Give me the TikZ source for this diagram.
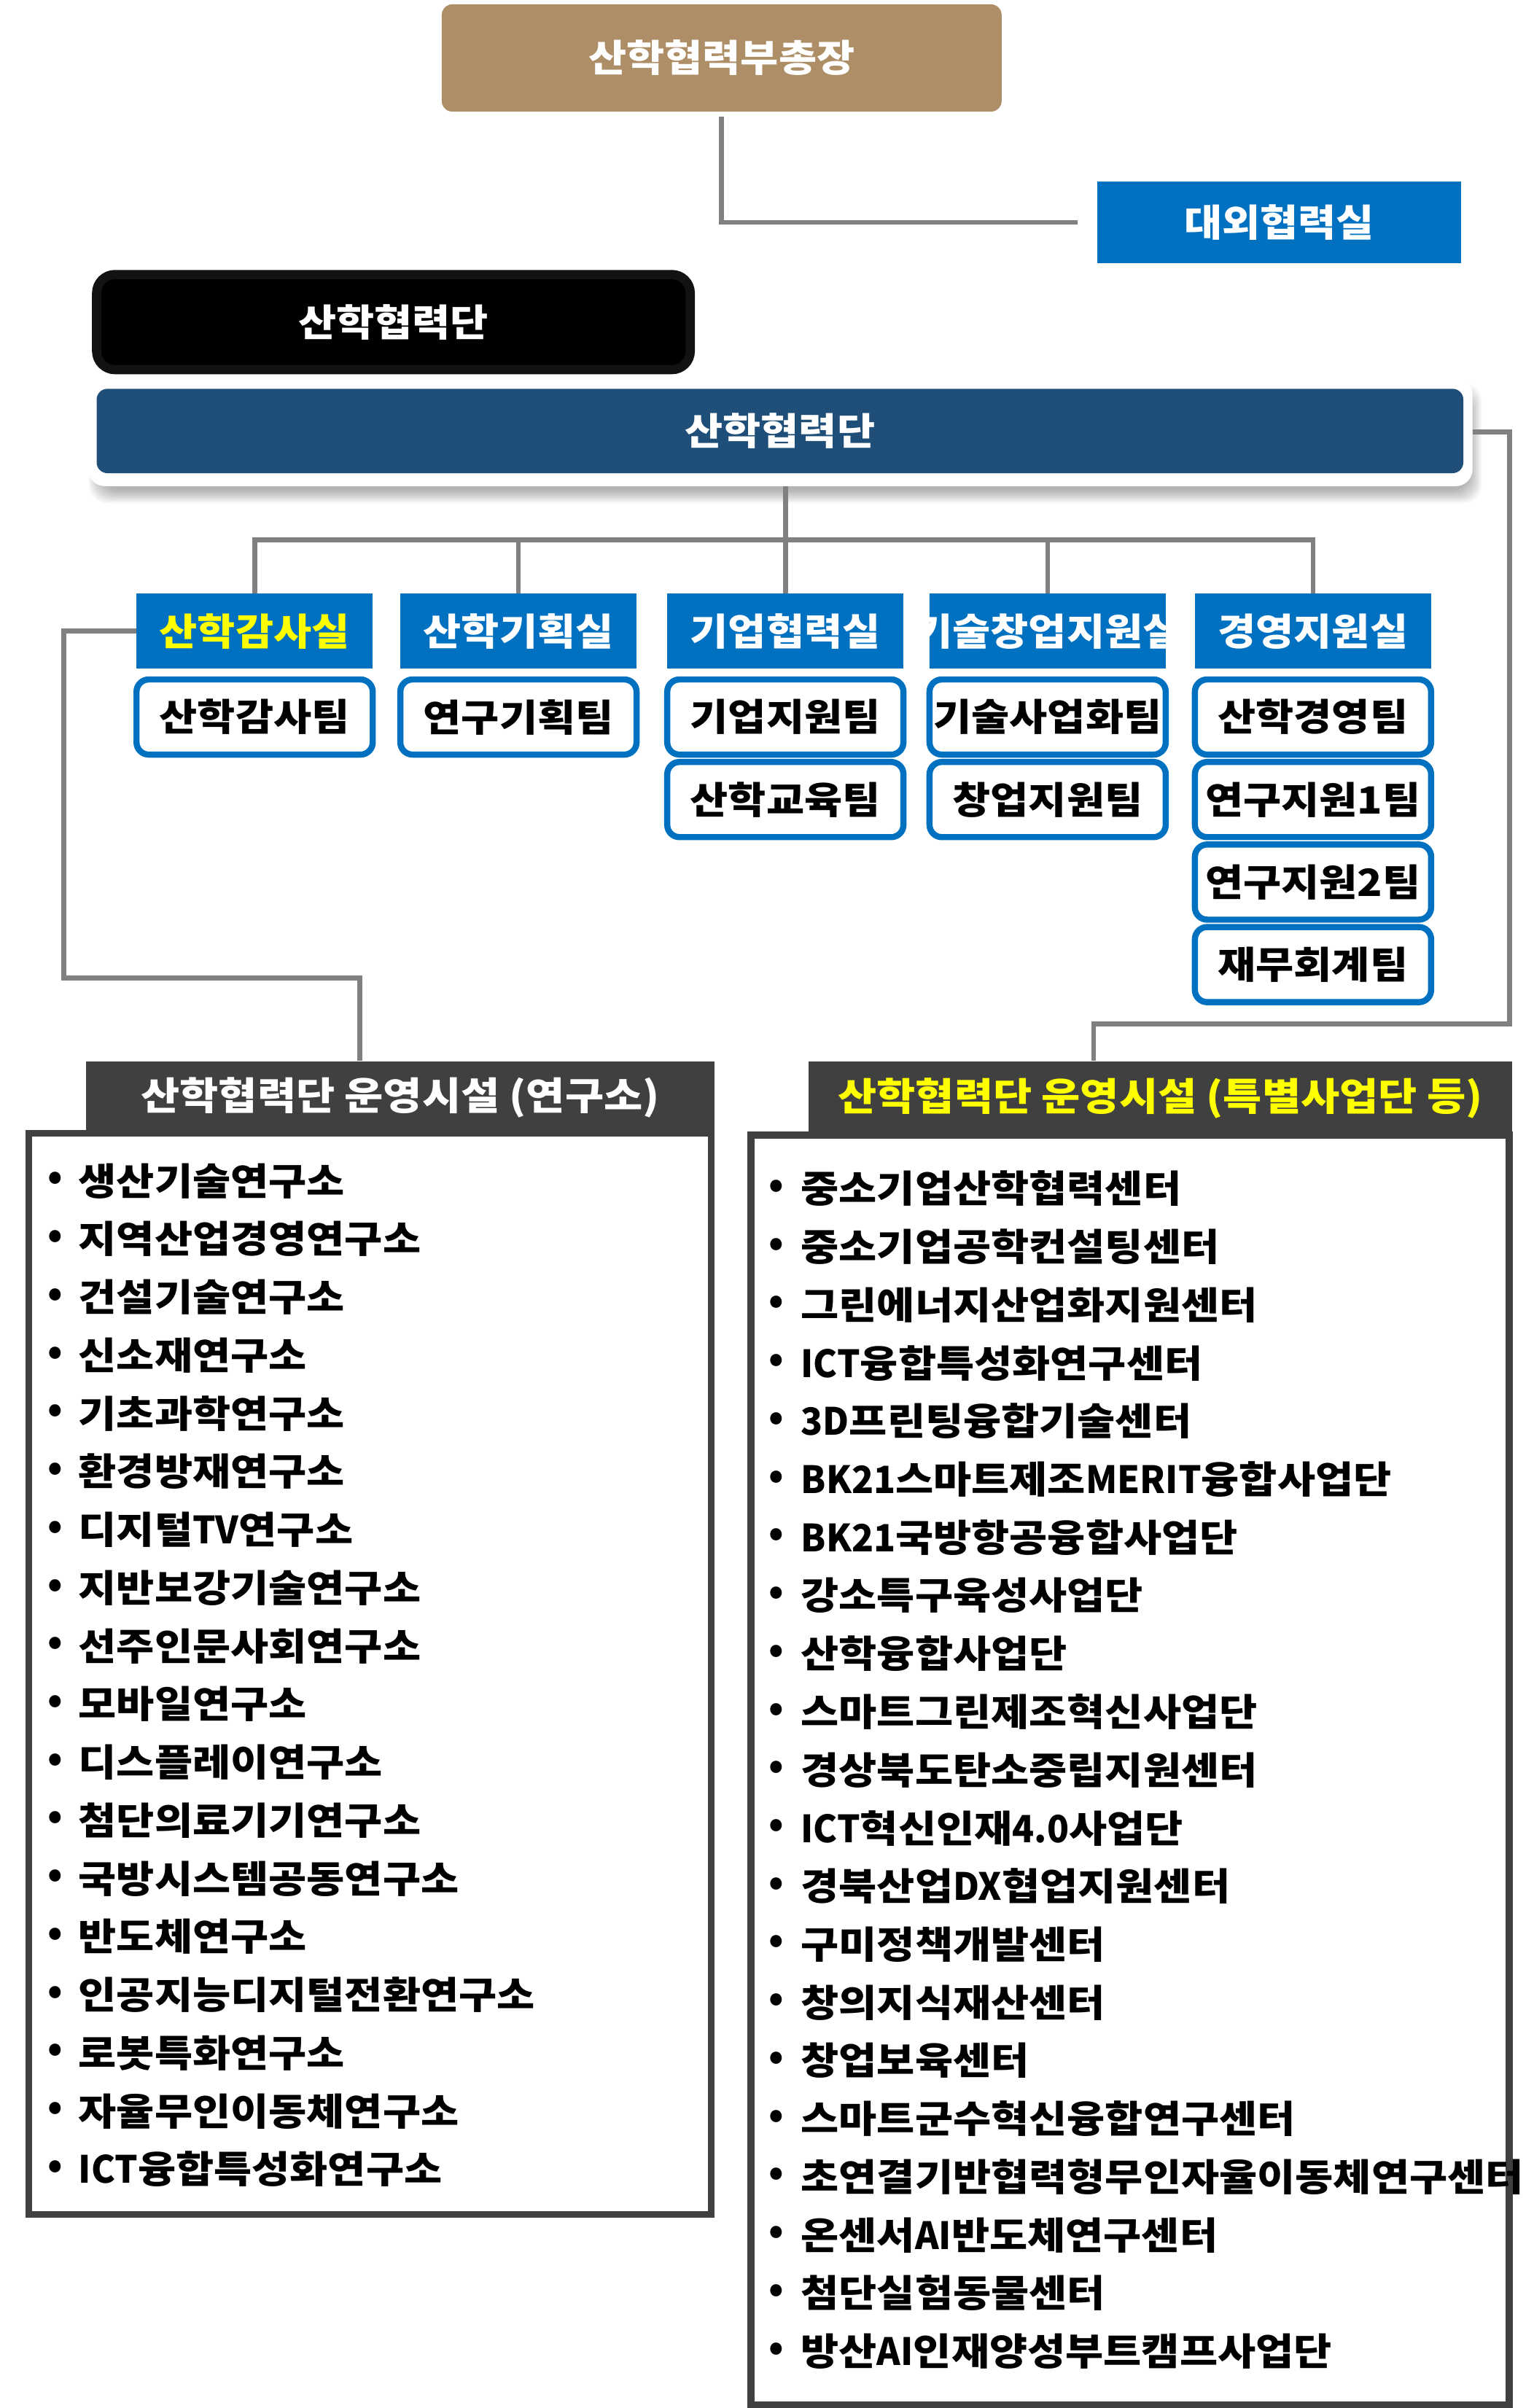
\documentclass[tikz,border=0pt]{standalone}
\usepackage{fontspec}
\setmainfont{Noto Sans CJK KR}[FakeStretch=1.1]
\newfontfamily\latfont{Noto Sans CJK KR}[FakeStretch=0.96]
\newfontfamily\bulfont{Noto Sans CJK KR}
\newcommand\latn[1]{{\latfont #1}}
\definecolor{tanbox}{HTML}{AE8E66}
\definecolor{hblue}{HTML}{0070C0}
\definecolor{navy}{HTML}{1F4E79}
\definecolor{lgray}{HTML}{808080}
\definecolor{dgray}{HTML}{404040}
\definecolor{yel}{HTML}{FFFF00}
\begin{document}
\begin{tikzpicture}[x=1pt,y=-1pt,
  lbl/.style={font=\bfseries\fontsize{24.5}{29}\selectfont},
  conn/.style={draw=lgray,line width=3.2pt,line join=miter},
  hdr/.style={lbl,fill=hblue,text=white,minimum width=154pt,minimum height=49pt,inner sep=0pt},
  team/.style={lbl,draw=hblue,line width=4pt,fill=white,rounded corners=8pt,minimum width=154pt,minimum height=49pt,inner sep=0pt,text=black},
  item/.style={lbl,anchor=west,inner sep=0pt,text=black},
  bul/.style={font=\bulfont\bfseries\fontsize{24.5}{29}\selectfont,inner sep=0pt,text=black},
  sechdr/.style={font=\bfseries\fontsize{25}{30}\selectfont,fill=dgray,inner sep=0pt},
  secbox/.style={draw=dgray,line width=4.5pt,fill=white,inner sep=0pt},
]
\useasboundingbox (0,0) rectangle (1000,1570);
\fill[white] (0,0) rectangle (1000,1570);

% top
\node[lbl,fill=tanbox,text=white,rounded corners=7pt,minimum width=365pt,minimum height=70pt,inner sep=0pt] (vp) at (470.5,37.8) {산학협력부총장};
\node[hdr,minimum width=237pt,minimum height=53pt] (ext) at (834,145) {대외협력실};
\draw[conn] ([yshift=-3pt]vp.south) |- ([xshift=-13pt]ext.west);

\node[lbl,fill=black,draw=black!93,line width=6pt,rounded corners=12pt,text=white,minimum width=387pt,minimum height=62pt,inner sep=0pt] (blk) at (256.5,210) {산학협력단};

% shadow of bar
\foreach \d in {0,1,...,8} {
  \fill[black,opacity=0.035,rounded corners=12pt] (58+\d,250+\d) rectangle (966-\d,328-\d);
}
\node[fill=white,rounded corners=11pt,minimum width=902.5pt,minimum height=71pt,inner sep=0pt] (barw) at (508.75,281.5) {};
\node[lbl,fill=navy,text=white,rounded corners=7pt,minimum width=891pt,minimum height=55pt,inner sep=0pt] (bar) at (508.5,281) {산학협력단};

% headers
\node[hdr,text=yel] (h1) at (166,411.5) {산학감사실};
\node[hdr] (h2) at (338,411.5) {산학기획실};
\node[hdr] (h3) at (512,411.5) {기업협력실};
\begin{scope}
\clip (606,387) rectangle (760,436);
\node[hdr] (h4) at (683,411.5) {기술창업지원실};
\end{scope}
\node[hdr] (h5) at (856,411.5) {경영지원실};

% teams
\node[team] (t1) at (166,467.5) {산학감사팀};
\node[team] (t2) at (338,467.5) {연구기획팀};
\node[team] (t3a) at (512,467.5) {기업지원팀};
\node[team] (t3b) at (512,521.3) {산학교육팀};
\node[team] (t4a) at (683,467.5) {기술사업화팀};
\node[team] (t4b) at (683,521.3) {창업지원팀};
\node[team] (t5a) at (856,467.5) {산학경영팀};
\node[team] (t5b) at (856,521.3) {연구지원1팀};
\node[team] (t5c) at (856,575.1) {연구지원2팀};
\node[team] (t5d) at (856,628.9) {재무회계팀};

% bus connectors
\coordinate (bus) at (511,352);
\draw[conn] (h3.north |- barw.south) -- (h3.north |- bus);
\draw[conn] (h1.north) -- (h1.north |- bus) -- (h5.north |- bus) -- (h5.north);
\draw[conn] (h2.north) -- (h2.north |- bus);
\draw[conn] (h3.north) -- (h3.north |- bus);
\draw[conn] (h4.north) -- (h4.north |- bus);

% section boxes
\node[secbox,minimum width=444.9pt,minimum height=704.7pt] (lbox) at (241.3,1091.35) {};
\node[secbox,minimum width=494.2pt,minimum height=828pt] (rbox) at (736.7,1154) {};
\node[sechdr,text=white,minimum width=410pt,minimum height=47pt] (lhdr) at (261,715.5) {산학협력단 운영시설 (연구소)};
\node[sechdr,text=yel,minimum width=459pt,minimum height=48pt] (rhdr) at (756.5,716) {산학협력단 운영시설 (특별사업단 등)};

% side connectors
\coordinate (lc) at (41.5,637.5);
\draw[conn] (h1.west) -| (lc) -| ([xshift=-26.5pt]lhdr.north);
\coordinate (rc) at (984,667.5);
\draw[conn] (barw.east) -| (rc) -| ([xshift=-43.5pt]rhdr.north);

% left list
\foreach \t [count=\i from 0] in {생산기술연구소,지역산업경영연구소,건설기술연구소,신소재연구소,기초과학연구소,환경방재연구소,디지털\latn{TV}연구소,지반보강기술연구소,선주인문사회연구소,모바일연구소,디스플레이연구소,첨단의료기기연구소,국방시스템공동연구소,반도체연구소,인공지능디지털전환연구소,로봇특화연구소,자율무인이동체연구소,\latn{ICT}융합특성화연구소} {
  \node[bul] (lb\i) at (36,770+37.9*\i) {•};
  \node[item] (li\i) at (51,770+37.9*\i) {\t};
}

% right list
\foreach \t [count=\i from 0] in {중소기업산학협력센터,중소기업공학컨설팅센터,그린에너지산업화지원센터,\latn{ICT}융합특성화연구센터,\latn{3D}프린팅융합기술센터,\latn{BK21}스마트제조\latn{MERIT}융합사업단,\latn{BK21}국방항공융합사업단,강소특구육성사업단,산학융합사업단,스마트그린제조혁신사업단,경상북도탄소중립지원센터,\latn{ICT}혁신인재\latn{4.0}사업단,경북산업\latn{DX}협업지원센터,구미정책개발센터,창의지식재산센터,창업보육센터,스마트군수혁신융합연구센터,초연결기반협력형무인자율이동체연구센터,온센서\latn{AI}반도체연구센터,첨단실험동물센터,방산\latn{AI}인재양성부트캠프사업단} {
  \node[bul] (rb\i) at (506,775+37.9*\i) {•};
  \node[item] (ri\i) at (522,775+37.9*\i) {\t};
}
\end{tikzpicture}
\end{document}
